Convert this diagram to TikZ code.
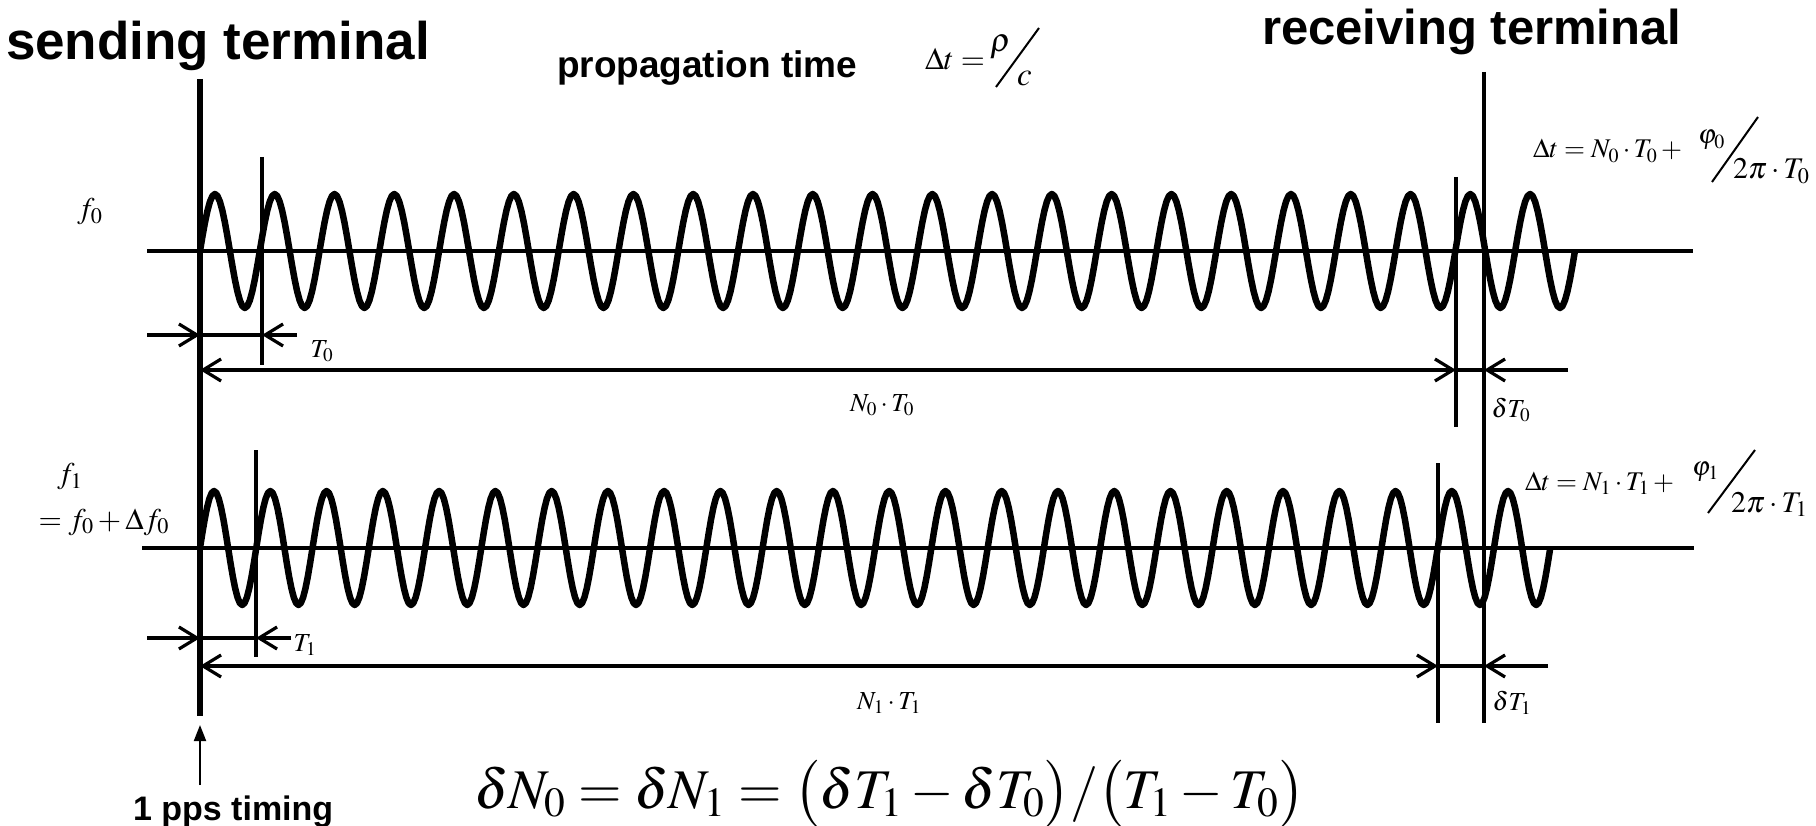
\documentclass[tikz,border=0pt]{standalone}
\usepackage{mathptmx}
\usepackage[no-math]{fontspec}
\newfontfamily\headfont{Liberation Sans}
\usetikzlibrary{arrows.meta}
\tikzset{
  thinline/.style={line width=3.2pt},
  thickline/.style={line width=6pt},
  waveline/.style={line width=6.5pt, line join=round},
  barbend/.style={-{Straight Barb[length=18pt,width=22pt]}},
  barbboth/.style={{Straight Barb[length=18pt,width=22pt]}-{Straight Barb[length=18pt,width=22pt]}},
  slashline/.style={line width=2pt},
  headfont/.style={font=\headfont\bfseries\fontsize{#1}{#1}\selectfont, anchor=base west},
  scanlab/.style={font=\fontsize{26}{30}\selectfont},
  flab/.style={font=\fontsize{30}{32}\selectfont},
  formula/.style={font=\fontsize{27}{30}\selectfont, anchor=base west},
  denom/.style={font=\fontsize{30}{32}\selectfont, anchor=base west},
}
\begin{document}
\begin{tikzpicture}[x=1pt,y=-1pt, every node/.style={inner sep=0pt, outer sep=0pt}]
\useasboundingbox[fill=white] (0,0) rectangle (1816,826);

% ---- headings ----
\node[headfont=53] (send) at (6,60) {sending terminal};
\node[headfont=37] (prop) at (557,78) {propagation time};
\node[headfont=49] (recv) at (1262,45) {receiving terminal};
\node[headfont=34] (pps) at (133,820) {1 pps timing};

% ---- propagation formula ----
\node[formula, font=\fontsize{31}{33}\selectfont] (dtrc) at (925,70) {$\Delta t={}$};
\node[formula, font=\fontsize{33}{35}\selectfont] (rho) at (990,52) {$\rho$};
\node[formula, font=\fontsize{33}{35}\selectfont] (cc) at (1017,86) {$c$};
\coordinate (s1a) at (996,87); \coordinate (s1b) at (1039,28);
\draw[slashline] (s1a) -- (s1b);

% ---- main vertical lines ----
\coordinate (sTop) at (200,79); \coordinate (sBot) at (200,716);
\draw[thickline] (sTop) -- (sBot);
\coordinate (rTop) at (1484,72); \coordinate (rBot) at (1484,723);
\draw[thinline] (rTop) -- (rBot);

% ---- axes ----
\coordinate (a0L) at (147,251); \coordinate (a0R) at (1693,251);
\coordinate (a1L) at (142,548); \coordinate (a1R) at (1694,548);
\draw[thinline] (a0L) -- (a0R);
\draw[thinline] (a1L) -- (a1R);

% ---- waves ----
\draw[waveline] plot[domain=0:8280, samples=553] ({200+\x/360*59.78},{251-57*sin(\x)});
\draw[waveline] plot[domain=0:8640, samples=577] ({200+\x/360*56.26},{548-57*sin(\x)});

% ---- marker lines ----
\coordinate (mT0a) at (262,157); \coordinate (mT0b) at (262,365);
\coordinate (mN0a) at (1456,177); \coordinate (mN0b) at (1456,427);
\coordinate (mT1a) at (256,450); \coordinate (mT1b) at (256,657);
\coordinate (mN1a) at (1438,463); \coordinate (mN1b) at (1438,723);
\draw[thinline] (mT0a) -- (mT0b);
\draw[thinline] (mN0a) -- (mN0b);
\draw[thinline] (mT1a) -- (mT1b);
\draw[thinline] (mN1a) -- (mN1b);

% ---- dimension arrows, f0 ----
\coordinate (t0a) at (147,335); \coordinate (t0b) at (200,335);
\coordinate (t0c) at (262,335); \coordinate (t0d) at (297,335);
\draw[thinline,barbend] (t0a) -- (t0b);
\draw[thinline] (t0b) -- (t0c);
\draw[thinline,barbend] (t0d) -- (t0c);
\coordinate (n0a) at (200,370); \coordinate (n0b) at (1456,370);
\coordinate (n0c) at (1484,370); \coordinate (n0d) at (1568,370);
\draw[thinline,barbboth] (n0a) -- (n0b);
\draw[thinline] (n0b) -- (n0c);
\draw[thinline,barbend] (n0d) -- (n0c);

% ---- dimension arrows, f1 ----
\coordinate (t1a) at (147,638); \coordinate (t1b) at (200,638);
\coordinate (t1c) at (256,638); \coordinate (t1d) at (291,638);
\draw[thinline,barbend] (t1a) -- (t1b);
\draw[thinline] (t1b) -- (t1c);
\draw[thinline,barbend] (t1d) -- (t1c);
\coordinate (n1a) at (200,666); \coordinate (n1b) at (1438,666);
\coordinate (n1c) at (1484,666); \coordinate (n1d) at (1548,666);
\draw[thinline,barbboth] (n1a) -- (n1b);
\draw[thinline] (n1b) -- (n1c);
\draw[thinline,barbend] (n1d) -- (n1c);

% ---- 1 pps arrow ----
\coordinate (ppsTail) at (200,785); \coordinate (ppsTip) at (200,725);
\draw[line width=2pt,-{Triangle[length=16pt,width=12pt]}] (ppsTail) -- (ppsTip);

% ---- scanned labels ----
\node[flab] (lf0) at (90,212) {$f_0$};
\node[scanlab] (lT0) at (322,351) {$T_0$};
\node[scanlab] (lN0T0) at (882,405) {$N_0\cdot T_0$};
\node[scanlab] (ldT0) at (1511,410) {$\delta T_0$};
\node[flab] (lf1) at (70,477) {$f_1$};
\node[flab, anchor=west] (lf1b) at (32,522) {${}=f_0+\Delta f_0$};
\node[scanlab] (lT1) at (305,645) {$T_1$};
\node[scanlab] (lN1T1) at (889,703) {$N_1\cdot T_1$};
\node[scanlab] (ldT1) at (1512,703) {$\delta T_1$};

% ---- right formulas ----
\node[formula] (dt0) at (1533,158) {$\Delta t=N_0\cdot T_0+{}$};
\node[formula] (phi0) at (1698,144) {$\varphi_0$};
\node[denom] (den0) at (1733,179) {$2\pi\cdot T_0$};
\coordinate (s2a) at (1712,182); \coordinate (s2b) at (1758,117);
\draw[slashline] (s2a) -- (s2b);

\node[formula] (dt1) at (1525,490) {$\Delta t=N_1\cdot T_1+{}$};
\node[formula] (phi1) at (1692,475) {$\varphi_1$};
\node[denom] (den1) at (1731,512) {$2\pi\cdot T_1$};
\coordinate (s3a) at (1708,513); \coordinate (s3b) at (1755,450);
\draw[slashline] (s3a) -- (s3b);

% ---- bottom formula ----
\node[formula, font=\fontsize{56}{60}\selectfont] (main) at (474,808)
  {$\delta N_0=\delta N_1=\bigl(\delta T_1-\delta T_0\bigr)/\bigl(T_1-T_0\bigr)$};
\end{tikzpicture}
\end{document}
